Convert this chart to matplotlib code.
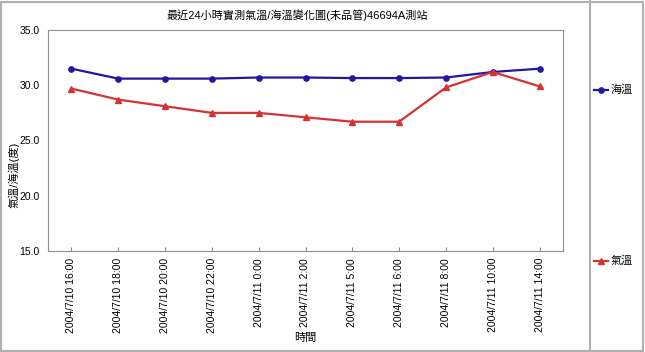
import matplotlib
matplotlib.use('Agg')
import matplotlib.pyplot as plt
from matplotlib.lines import Line2D
from matplotlib.patches import Rectangle

plt.rcParams['font.family'] = ['Liberation Sans', 'Noto Sans CJK TC', 'DejaVu Sans']

# data
times = ['2004/7/10 16:00', '2004/7/10 18:00', '2004/7/10 20:00', '2004/7/10 22:00',
         '2004/7/11 0:00', '2004/7/11 2:00', '2004/7/11 5:00', '2004/7/11 6:00',
         '2004/7/11 8:00', '2004/7/11 10:00', '2004/7/11 14:00']
sea_temp = [31.5, 30.6, 30.6, 30.6, 30.7, 30.7, 30.65, 30.65, 30.7, 31.2, 31.5]
air_temp = [29.7, 28.7, 28.1, 27.5, 27.5, 27.1, 26.7, 26.7, 29.8, 31.2, 29.9]
y_ticks = [15.0, 20.0, 25.0, 30.0, 35.0]

W, H = 645, 352
fig = plt.figure(figsize=(W / 100, H / 100), dpi=100)
ax = fig.add_axes([48 / W, 1 - 251 / H, (563 - 48) / W, (251 - 30) / H])

x = list(range(len(times)))
sea_color = '#24179e'
air_color = '#d23434'
ax.plot(x, sea_temp, color=sea_color, lw=1.6, marker='o', ms=3.8)
ax.plot(x, air_temp, color=air_color, lw=1.6, marker='^', ms=4.2)

ax.set_xlim(-0.5, len(times) - 0.5)
ax.set_ylim(15, 35)
ax.set_yticks(y_ticks)
ax.set_yticklabels(['%.1f' % v for v in y_ticks], fontsize=7.5)
ax.set_xticks(x)
ax.set_xticklabels(times, rotation=90, fontsize=7.5)
ax.tick_params(axis='x', direction='in', length=3, color='#888888', pad=5)
ax.tick_params(axis='y', length=0, pad=6)
for s in ax.spines.values():
    s.set_color('#909090')
    s.set_linewidth(0.8)

fig.text(297 / W, 1 - 15 / H, '最近24小時實測氣溫/海溫變化圖(未品管)46694A測站',
         ha='center', va='center', fontsize=8)
fig.text(14 / W, 1 - 175 / H, '氣溫/海溫(度)', rotation=90,
         ha='center', va='center', fontsize=8)
fig.text(305 / W, 1 - 338 / H, '時間', ha='center', va='center', fontsize=8)

# outer frame and legend separator
fig.patches.append(Rectangle((1 / W, 1 / H), (W - 3) / W, (H - 3) / H,
                             transform=fig.transFigure, fill=False,
                             edgecolor='#b0b0b0', lw=1.5))
fig.lines.append(Line2D([590 / W, 590 / W], [1 / H, 1 - 1 / H],
                        transform=fig.transFigure, color='#b0b0b0', lw=1.5))

# legend entries
legend_items = [('海溫', sea_color, 'o', 3.8, 90), ('氣溫', air_color, '^', 4.5, 261)]
for name, color, mk, size, ypix in legend_items:
    yy = 1 - ypix / H
    fig.lines.append(Line2D([594 / W, 608 / W], [yy, yy],
                            transform=fig.transFigure, color=color, lw=1.6))
    fig.lines.append(Line2D([601 / W], [yy], transform=fig.transFigure,
                            color=color, marker=mk, ms=size, lw=0))
    fig.text(611 / W, yy, name, ha='left', va='center', fontsize=8)

fig.savefig('out.png', dpi=100)
